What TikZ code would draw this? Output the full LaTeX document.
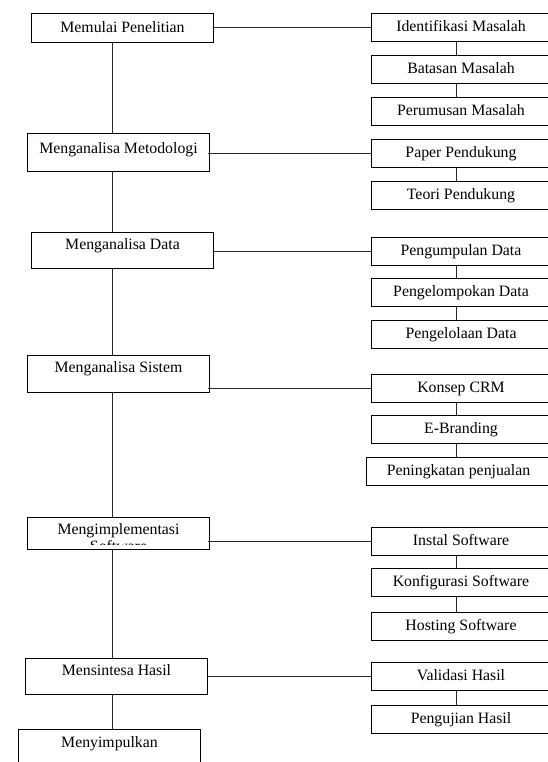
\documentclass[tikz,border=0pt]{standalone}
\usepackage{fontspec}
\setmainfont{Liberation Serif}
\begin{document}
\begin{tikzpicture}[x=1pt,y=-1pt,
  box/.style={draw=black, line width=1pt, rectangle, inner xsep=0pt, inner ysep=0pt,
    anchor=north west, font=\fontsize{15.8}{17}\selectfont},
  lbox/.style={box, minimum width=182pt},
  rbox/.style={box, minimum width=179pt, text height=18pt, text depth=10pt},
  tb/.style 2 args={text height=#1, text depth=#2},
  conn/.style={draw=black!85, line width=0.9pt}]
\useasboundingbox (0,0) rectangle (548,762);
\begin{scope}
\clip (0,0) rectangle (548,762);
\coordinate (ls) at (112,0);
\coordinate (rs) at (456,0);
% left column
\node[lbox, tb={19pt}{10pt}] (m1) at (31,13) {Memulai Penelitian};
\node[lbox, tb={20pt}{18pt}] (m2) at (27,133) {Menganalisa Metodologi};
\node[lbox, tb={17pt}{19pt}] (m3) at (31,232) {Menganalisa Data};
\node[lbox, tb={17pt}{20pt}] (m4) at (27,355) {Menganalisa Sistem};
\node[lbox, tb={17pt}{15pt}] (m5) at (27,517) {Mengimplementasi};
\node[lbox, tb={17pt}{19pt}] (m6) at (25,658) {Mensintesa Hasil};
\node[lbox, tb={18pt}{30pt}] (m7) at (18,729) {Menyimpulkan};
\begin{scope}
\clip (m5.north west) rectangle ([yshift=5.5pt]m5.south east);
\node[anchor=base, inner sep=0pt, font=\fontsize{15.8}{17}\selectfont] (m5b) at ([yshift=-16.5pt]m5.base) {Software};
\end{scope}
% right column
\node[rbox] (r1) at (371,13) {Identifikasi Masalah};
\node[rbox] (r2) at (371,55) {Batasan Masalah};
\node[rbox] (r3) at (371,97) {Perumusan Masalah};
\node[rbox] (r4) at (371,139) {Paper Pendukung};
\node[rbox] (r5) at (371,181) {Teori Pendukung};
\node[rbox] (r6) at (371,237) {Pengumpulan Data};
\node[rbox] (r7) at (371,278) {Pengelompokan Data};
\node[rbox] (r8) at (371,320) {Pengelolaan Data};
\node[rbox] (r9) at (371,374) {Konsep CRM};
\node[rbox] (r10) at (371,415) {E-Branding};
\node[rbox, minimum width=184pt] (r11) at (366,457) {Peningkatan penjualan};
\node[rbox] (r12) at (371,527) {Instal Software};
\node[rbox] (r13) at (371,568) {Konfigurasi Software};
\node[rbox] (r14) at (371,612) {Hosting Software};
\node[rbox] (r15) at (371,662) {Validasi Hasil};
\node[rbox] (r16) at (371,705) {Pengujian Hasil};
% left spine
\draw[conn] (m1.south -| ls) -- (m2.north -| ls);
\draw[conn] (m2.south -| ls) -- (m3.north -| ls);
\draw[conn] (m3.south -| ls) -- (m4.north -| ls);
\draw[conn] (m4.south -| ls) -- (m5.north -| ls);
\draw[conn] (m5.south -| ls) -- (m6.north -| ls);
\draw[conn] (m6.south -| ls) -- (m7.north -| ls);
% horizontal connectors
\draw[conn] (m1.east |- r1.west) -- (r1.west);
\draw[conn] ([xshift=-2pt]m2.east |- r4.west) -- (r4.west);
\draw[conn] (m3.east |- r6.west) -- (r6.west);
\draw[conn] ([xshift=-2pt]m4.east |- r9.west) -- (r9.west);
\draw[conn] ([xshift=-2pt]m5.east |- r12.west) -- (r12.west);
\draw[conn] (m6.east |- r15.west) -- (r15.west);
% right verticals
\draw[conn] (r1.south -| rs) -- (r2.north -| rs);
\draw[conn] (r2.south -| rs) -- (r3.north -| rs);
\draw[conn] (r4.south -| rs) -- (r5.north -| rs);
\draw[conn] (r6.south -| rs) -- (r7.north -| rs);
\draw[conn] (r7.south -| rs) -- (r8.north -| rs);
\draw[conn] (r9.south -| rs) -- (r10.north -| rs);
\draw[conn] (r10.south -| rs) -- (r11.north -| rs);
\draw[conn] (r12.south -| rs) -- (r13.north -| rs);
\draw[conn] (r13.south -| rs) -- (r14.north -| rs);
\draw[conn] (r15.south -| rs) -- (r16.north -| rs);
\end{scope}
\end{tikzpicture}
\end{document}
